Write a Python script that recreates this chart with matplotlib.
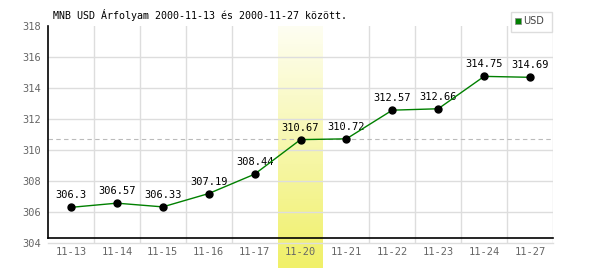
import numpy as np
import matplotlib
matplotlib.use("Agg")
import matplotlib.pyplot as plt
from matplotlib.colors import LinearSegmentedColormap
from matplotlib.patches import Rectangle

# adatok
dates = ["11-13", "11-14", "11-15", "11-16", "11-17", "11-20",
         "11-21", "11-22", "11-23", "11-24", "11-27"]
rates = [306.3, 306.57, 306.33, 307.19, 308.44, 310.67,
         310.72, 312.57, 312.66, 314.75, 314.69]
rate_labels = ["306.3", "306.57", "306.33", "307.19", "308.44", "310.67",
               "310.72", "312.57", "312.66", "314.75", "314.69"]
y_ticks = [304, 306, 308, 310, 312, 314, 316, 318]
avg_line = 310.69
highlight = 5  # 11-20
title = "MNB USD Árfolyam 2000-11-13 és 2000-11-27 között."

plt.rcParams["font.family"] = ["DejaVu Sans Mono"]

W, H = 600, 270
fig = plt.figure(figsize=(6, 2.7), dpi=100)

# kiemelt sáv (gradiens)
band_ax = fig.add_axes([278 / W, 2 / H, 45 / W, 1 - 28 / H], zorder=0)
cmap = LinearSegmentedColormap.from_list("band", ["#fefef2", "#f0f068"])
grad = np.linspace(0, 1, 256).reshape(-1, 1)
band_ax.imshow(grad, aspect="auto", cmap=cmap)
band_ax.axis("off")

ax = fig.add_axes([48 / W, 1 - 243 / H, 505 / W, 217 / H], zorder=1)
ax.set_facecolor("none")
x = np.arange(len(dates))
ax.set_xlim(-0.5, len(dates) - 0.5)
ax.set_ylim(304, 318)

# rács
for xb in np.arange(0.5, len(dates) - 0.5, 1):
    if xb in (highlight - 0.5, highlight + 0.5):
        continue
    ax.axvline(xb, color="#dddddd", lw=1, zorder=1)
ax.axvline(len(dates) - 0.5, color="#dddddd", lw=1, zorder=1)
for yv in y_ticks[1:-1]:
    ax.axhline(yv, color="#dddddd", lw=1, zorder=1)
ax.axhline(304, color="#dddddd", lw=1, zorder=1, clip_on=False)
ax.axhline(avg_line, color="#bbbbbb", lw=0.8, ls=(0, (4, 3)), zorder=2)

for s in ax.spines.values():
    s.set_visible(False)
ax.plot([-0.5, -0.5], [304.32, 318], color="black", lw=1.2, clip_on=False, zorder=3)
ax.plot([-0.5, len(dates) - 0.5], [304.32, 304.32], color="black", lw=1.2,
        clip_on=False, zorder=3)

ax.plot(x, rates, color="#008000", lw=1, zorder=4)
ax.plot(x, rates, "o", color="black", ms=5, zorder=5)
for xi, yi, lab in zip(x, rates, rate_labels):
    ax.annotate(lab, (xi, yi), xytext=(0, 5), textcoords="offset points",
                ha="center", va="bottom", fontsize=7.5, color="black")

ax.set_xticks(x)
ax.set_xticklabels(dates)
ax.set_yticks(y_ticks)
ax.tick_params(axis="both", length=0, labelsize=7.5, colors="#666666")
ax.tick_params(axis="x", pad=3)
ax.tick_params(axis="y", pad=5)

fig.text(53 / W, 1 - 15 / H, title, fontsize=7.2, ha="left", va="center", color="black")

# jelmagyarázat
fig.patches.append(Rectangle((511 / W, 1 - 32 / H), 41 / W, 20 / H,
                             transform=fig.transFigure, facecolor="white",
                             edgecolor="#dddddd", lw=1, zorder=6))
fig.patches.append(Rectangle((515 / W, 1 - 24 / H), 6 / W, 6 / H,
                             transform=fig.transFigure, facecolor="#008000",
                             edgecolor="#888888", lw=0.5, zorder=7))
fig.text(523 / W, 1 - 21 / H, "USD", fontsize=7, ha="left", va="center",
         color="#444444", family="DejaVu Sans", zorder=8)

fig.savefig("out.png", dpi=100)
